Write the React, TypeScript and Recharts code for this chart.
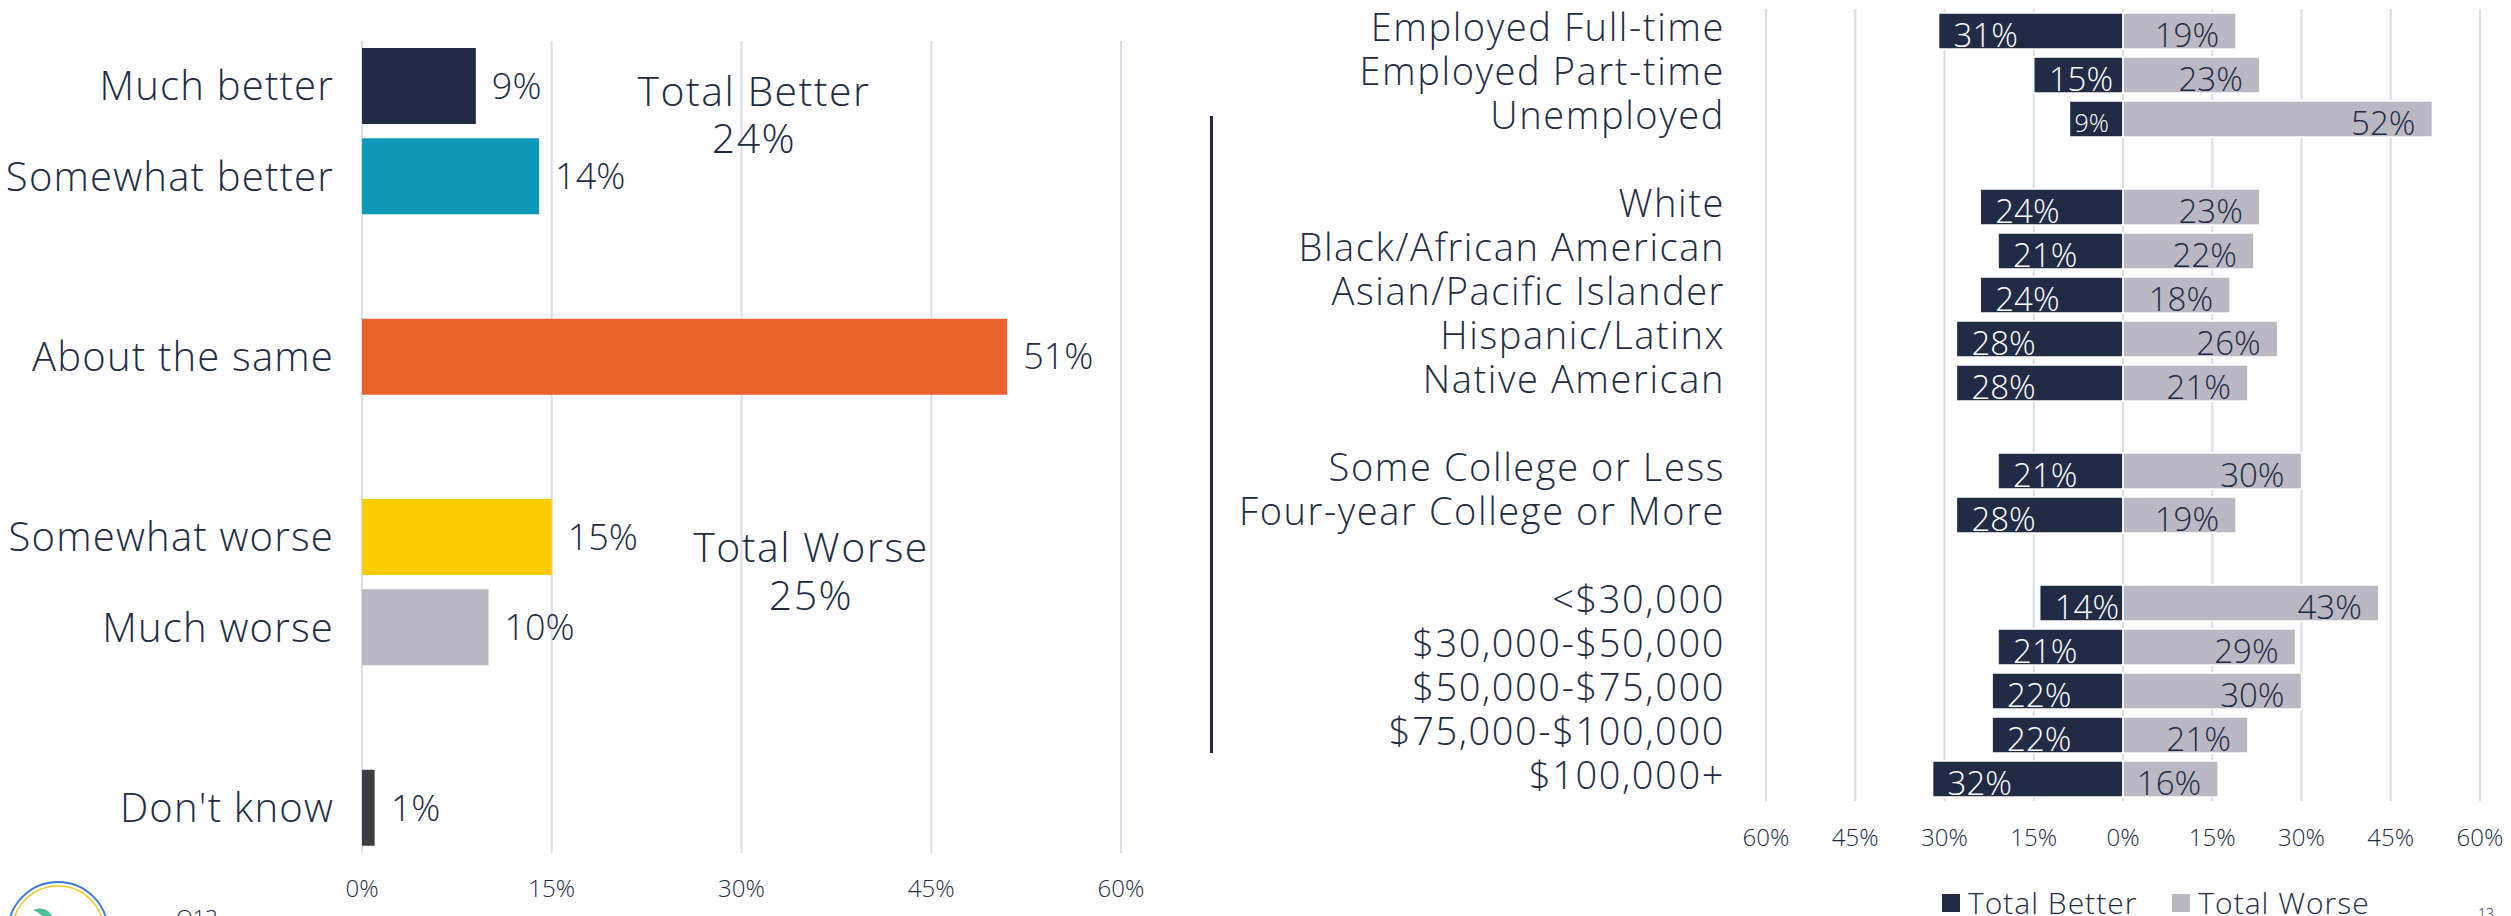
import React from 'react';
import { BarChart, Bar, XAxis, YAxis, CartesianGrid, Cell, LabelList } from 'recharts';

// left panel: overall change (blank names are spacer rows)
const changeCategories = ['Much better', 'Somewhat better', '', 'About the same', '', 'Somewhat worse', 'Much worse', '', "Don't know"];
const changeValues = [9, 14, null, 51, null, 15, 10, null, 1];
const changeColors = ['#212B45', '#0E97B6', '#fff', '#E8632C', '#fff', '#FFCC00', '#BAB8C2', '#fff', '#3B3E42'];
const changeTicks = [0, 15, 30, 45, 60];

// right panel: better vs worse by group
const groupCategories = [
  'Employed Full-time', 'Employed Part-time', 'Unemployed', '',
  'White', 'Black/African American', 'Asian/Pacific Islander', 'Hispanic/Latinx', 'Native American', '',
  'Some College or Less', 'Four-year College or More', '',
  '<$30,000', '$30,000-$50,000', '$50,000-$75,000', '$75,000-$100,000', '$100,000+',
];
const totalBetter = [31, 15, 9, null, 24, 21, 24, 28, 28, null, 21, 28, null, 14, 21, 22, 22, 32];
const totalWorse = [19, 23, 52, null, 23, 22, 18, 26, 21, null, 30, 19, null, 43, 29, 30, 21, 16];
const groupTicks = [-60, -45, -30, -15, 0, 15, 30, 45, 60];

const NAVY = '#212B45';
const GRAY = '#BAB9C3';
const GRID = '#D8DEE9';
const FONT = "'Open Sans', 'Noto Sans', sans-serif";

const changeRows = changeCategories.map((name, i) => ({ key: `c${i}`, name, value: changeValues[i] }));
const groupRows = groupCategories.map((name, i) => ({
  key: `g${i}`,
  name,
  better: totalBetter[i] == null ? null : -(totalBetter[i] as number),
  worse: totalWorse[i],
  betterPct: totalBetter[i],
  worsePct: totalWorse[i],
}));

const changeName = (k: string) => changeRows.find((r) => r.key === k)?.name ?? '';
const groupName = (k: string) => groupRows.find((r) => r.key === k)?.name ?? '';

const BetterLabel = (props: any) => {
  const { x, y, width, height, value } = props;
  if (value == null) return null;
  const left = Math.min(x, x + width);
  const small = Math.abs(width) < 60;
  return (
    <text x={left + (small ? 5 : 15)} y={y + height / 2 + 3} fill="#fff" fontSize={small ? 25 : 33}
      dominantBaseline="central" textAnchor="start">{value}%</text>
  );
};

const WorseLabel = (props: any) => {
  const { x, y, width, height, value } = props;
  if (value == null) return null;
  const right = Math.max(x, x + width);
  return (
    <text x={right - 17} y={y + height / 2 + 3} fill={NAVY} fontSize={33}
      dominantBaseline="central" textAnchor="end">{value}%</text>
  );
};

const App = () => {
  return (
    <div style={{ position: 'absolute', left: 0, top: 0, width: 2511, height: 916, overflow: 'hidden',
      background: '#fff', fontFamily: FONT, fontWeight: 300, color: NAVY }}>
      <div style={{ position: 'absolute', left: 0, top: 0 }}>
        <BarChart width={1200} height={916} data={changeRows} layout="vertical"
          margin={{ top: 41, right: 79, bottom: 23, left: 0 }}>
          <CartesianGrid horizontal={false} stroke={GRID} strokeWidth={2} />
          <XAxis type="number" domain={[0, 60]} ticks={changeTicks} tickFormatter={(v) => `${v}%`}
            axisLine={false} tickLine={false} tickSize={0} tickMargin={27} height={40}
            tick={{ fill: NAVY, fontSize: 24 }} />
          <YAxis type="category" dataKey="key" width={362} interval={0} tickFormatter={changeName}
            axisLine={false} tickLine={false} tickSize={0} tickMargin={28}
            tick={{ fill: NAVY, fontSize: 40, letterSpacing: 1.2 }} />
          <Bar dataKey="value" barSize={76} isAnimationActive={false}>
            {changeRows.map((r, i) => (
              <Cell key={r.key} fill={changeColors[i]} />
            ))}
            <LabelList dataKey="value" position="right" offset={16} fill={NAVY} fontSize={36}
              formatter={(v: any) => (v == null ? '' : `${v}%`)} />
          </Bar>
        </BarChart>
      </div>

      <div style={{ position: 'absolute', left: 754, top: 67, transform: 'translateX(-50%)',
        fontSize: 41, letterSpacing: 1.5, lineHeight: '47px', textAlign: 'center', whiteSpace: 'nowrap' }}>
        Total Better<br />24%
      </div>
      <div style={{ position: 'absolute', left: 811, top: 522, transform: 'translateX(-50%)',
        fontSize: 41, letterSpacing: 1.5, lineHeight: '48px', textAlign: 'center', whiteSpace: 'nowrap' }}>
        Total Worse<br />25%
      </div>

      <div style={{ position: 'absolute', left: 1210, top: 116, width: 3, height: 637, background: NAVY }} />

      <div style={{ position: 'absolute', left: 1200, top: 0 }}>
        <BarChart width={1311} height={916} data={groupRows} layout="vertical" stackOffset="sign"
          margin={{ top: 9, right: 31, bottom: 75, left: 0 }}>
          <CartesianGrid horizontal={false} stroke={GRID} strokeWidth={2} />
          <XAxis type="number" domain={[-60, 60]} ticks={groupTicks} tickFormatter={(v) => `${Math.abs(v)}%`}
            axisLine={false} tickLine={false} tickSize={0} tickMargin={28} height={40}
            tick={{ fill: NAVY, fontSize: 24 }} />
          <YAxis type="category" dataKey="key" width={566} interval={0} tickFormatter={groupName}
            axisLine={false} tickLine={false} tickSize={0} tickMargin={41}
            tick={{ fill: NAVY, fontSize: 38, letterSpacing: 1.6, dy: -3 }} />
          <Bar dataKey="better" stackId="g" fill={NAVY} stroke="#fff" strokeWidth={1.5} barSize={36}
            isAnimationActive={false}>
            <LabelList dataKey="betterPct" content={BetterLabel} />
          </Bar>
          <Bar dataKey="worse" stackId="g" fill={GRAY} stroke="#fff" strokeWidth={1.5} barSize={36}
            isAnimationActive={false}>
            <LabelList dataKey="worsePct" content={WorseLabel} />
          </Bar>
        </BarChart>
      </div>

      <div style={{ position: 'absolute', left: 1942, top: 882, display: 'flex', alignItems: 'center',
        fontSize: 30, letterSpacing: 1, whiteSpace: 'nowrap' }}>
        <span style={{ width: 18, height: 18, background: NAVY, marginRight: 8 }} />
        <span>Total Better</span>
        <span style={{ width: 18, height: 18, background: GRAY, marginLeft: 35, marginRight: 8 }} />
        <span>Total Worse</span>
      </div>

      <svg style={{ position: 'absolute', left: 0, top: 870 }} width={130} height={46}>
        <circle cx={58} cy={62} r={50} fill="#fff" stroke="#3A7BD5" strokeWidth={2} />
        <circle cx={58} cy={62} r={46} fill="none" stroke="#F2C81C" strokeWidth={1.5} />
        <path d="M33 40 C42 36 50 40 53 48 L44 48 C41 44 37 42 33 40 Z" fill="#4EC29A" />
      </svg>
      <div style={{ position: 'absolute', left: 176, top: 902, fontSize: 22 }}>Q13</div>
      <div style={{ position: 'absolute', left: 2478, top: 904, fontSize: 14 }}>13</div>
    </div>
  );
};

export default App;
